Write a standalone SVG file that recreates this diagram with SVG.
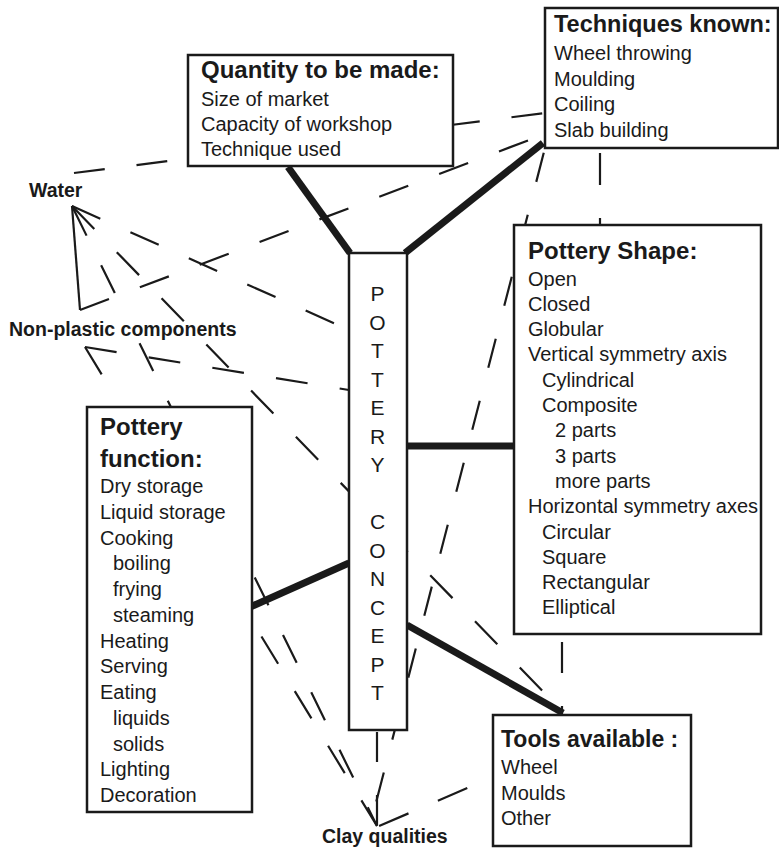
<svg xmlns="http://www.w3.org/2000/svg" width="779" height="849" viewBox="0 0 779 849">
<style>
text{font-family:"Liberation Sans",Arial,sans-serif;fill:#1a1a1a}
.t{font-size:24px;font-weight:bold}
.i{font-size:20px}
.lab{font-size:19.5px;font-weight:bold}
.cc{font-size:21px;text-anchor:middle}
.box{fill:#fff;stroke:#1a1a1a;stroke-width:2.5}
.thick{stroke:#1a1a1a;stroke-width:7;fill:none}
.dash{stroke:#1a1a1a;stroke-width:2.2;fill:none}
</style>
<rect width="779" height="849" fill="#fff"/>
<g id="water"><text class="lab" x="29" y="197">Water</text></g>
<g id="nonplastic"><text class="lab" x="9" y="336">Non-plastic components</text></g>
<g id="clay"><text class="lab" x="322" y="843">Clay qualities</text></g>
<g id="connectors">
<line class="thick" x1="288" y1="167" x2="350" y2="253"/>
<line class="thick" x1="543" y1="143" x2="405" y2="253"/>
<line class="thick" x1="407" y1="446" x2="514" y2="446"/>
<line class="thick" x1="349" y1="563" x2="248" y2="608"/>
<line class="thick" x1="407" y1="625" x2="563" y2="713"/>
<line class="dash" x1="72" y1="206" x2="349" y2="330" stroke-dasharray="31 33"/>
<line class="dash" x1="72" y1="206" x2="563" y2="712" stroke-dasharray="32 32.3"/>
<line class="dash" x1="72" y1="206" x2="377" y2="826" stroke-dasharray="33 33 31 56 31 33 31 33 31 33 31 38 31 33 31 33 31 33 31 33 31 33"/>
<line class="dash" x1="72" y1="206" x2="80" y2="310"/>
<line class="dash" x1="80" y1="310" x2="545" y2="134" stroke-dasharray="31 33"/>
<line class="dash" x1="74" y1="173" x2="545" y2="113" stroke-dasharray="31 32"/>
<line class="dash" x1="85" y1="347" x2="349" y2="390" stroke-dasharray="32 32.5"/>
<line class="dash" x1="85" y1="347" x2="377" y2="826" stroke-dasharray="32 51 32 32 32 32 32 32 32 32 32 32 32 32 32 32 32 32"/>
<line class="dash" x1="545" y1="148" x2="370" y2="826" stroke-dasharray="30 34" stroke-dashoffset="59"/>
<line class="dash" x1="377" y1="732" x2="377" y2="826" stroke-dasharray="30 33"/>
<line class="dash" x1="493" y1="777" x2="378" y2="826.5" stroke-dasharray="32 32" stroke-dashoffset="36"/>
<line class="dash" x1="562" y1="634" x2="562" y2="715" stroke-dasharray="31 33" stroke-dashoffset="-8"/>
<line class="dash" x1="600" y1="148" x2="600" y2="225" stroke-dasharray="32 33" stroke-dashoffset="-5"/>
</g>
<g id="quantity">
<rect class="box" x="188" y="55" width="265" height="111"/>
<text class="t" x="201" y="78">Quantity to be made:</text>
<text class="i" x="201" y="106">Size of market</text>
<text class="i" x="201" y="131">Capacity of workshop</text>
<text class="i" x="201" y="156">Technique used</text>
</g>
<g id="techniques">
<rect class="box" x="545" y="8" width="233" height="140"/>
<text class="t" x="554" y="32" style="font-size:23.5px">Techniques known:</text>
<text class="i" x="554" y="60">Wheel throwing</text>
<text class="i" x="554" y="86">Moulding</text>
<text class="i" x="554" y="111">Coiling</text>
<text class="i" x="554" y="137">Slab building</text>
</g>
<g id="shape">
<rect class="box" x="514" y="225" width="247" height="409"/>
<text class="t" x="528" y="259">Pottery Shape:</text>
<text class="i" x="528" y="285.5">Open</text>
<text class="i" x="528" y="310.8">Closed</text>
<text class="i" x="528" y="336.1">Globular</text>
<text class="i" x="528" y="361.4">Vertical symmetry axis</text>
<text class="i" x="542" y="386.7">Cylindrical</text>
<text class="i" x="542" y="412">Composite</text>
<text class="i" x="555" y="437.3">2 parts</text>
<text class="i" x="555" y="462.6">3 parts</text>
<text class="i" x="555" y="487.9">more parts</text>
<text class="i" x="528" y="513.2">Horizontal symmetry axes</text>
<text class="i" x="542" y="538.5">Circular</text>
<text class="i" x="542" y="563.8">Square</text>
<text class="i" x="542" y="589.1">Rectangular</text>
<text class="i" x="542" y="614.4">Elliptical</text>
</g>
<g id="function">
<rect class="box" x="87" y="407" width="165" height="405"/>
<text class="t" x="100" y="435">Pottery</text>
<text class="t" x="100" y="467">function:</text>
<text class="i" x="100" y="493">Dry storage</text>
<text class="i" x="100" y="518.75">Liquid storage</text>
<text class="i" x="100" y="544.5">Cooking</text>
<text class="i" x="113" y="570.25">boiling</text>
<text class="i" x="113" y="596">frying</text>
<text class="i" x="113" y="621.75">steaming</text>
<text class="i" x="100" y="647.5">Heating</text>
<text class="i" x="100" y="673.25">Serving</text>
<text class="i" x="100" y="699">Eating</text>
<text class="i" x="113" y="724.75">liquids</text>
<text class="i" x="113" y="750.5">solids</text>
<text class="i" x="100" y="776.25">Lighting</text>
<text class="i" x="100" y="802">Decoration</text>
</g>
<g id="tools">
<rect class="box" x="493" y="715" width="198" height="131"/>
<text class="t" x="501" y="747" style="font-size:23px">Tools available :</text>
<text class="i" x="501" y="774">Wheel</text>
<text class="i" x="501" y="800">Moulds</text>
<text class="i" x="501" y="825">Other</text>
</g>
<g id="concept">
<rect class="box" x="349" y="253" width="58" height="477"/>
<text class="cc" x="377.5" y="301">P</text>
<text class="cc" x="377.5" y="329.5">O</text>
<text class="cc" x="377.5" y="358">T</text>
<text class="cc" x="377.5" y="386.5">T</text>
<text class="cc" x="377.5" y="415">E</text>
<text class="cc" x="377.5" y="443.5">R</text>
<text class="cc" x="377.5" y="472">Y</text>
<text class="cc" x="377.5" y="529">C</text>
<text class="cc" x="377.5" y="557.5">O</text>
<text class="cc" x="377.5" y="586">N</text>
<text class="cc" x="377.5" y="614.5">C</text>
<text class="cc" x="377.5" y="643">E</text>
<text class="cc" x="377.5" y="671.5">P</text>
<text class="cc" x="377.5" y="700">T</text>
</g>
</svg>
